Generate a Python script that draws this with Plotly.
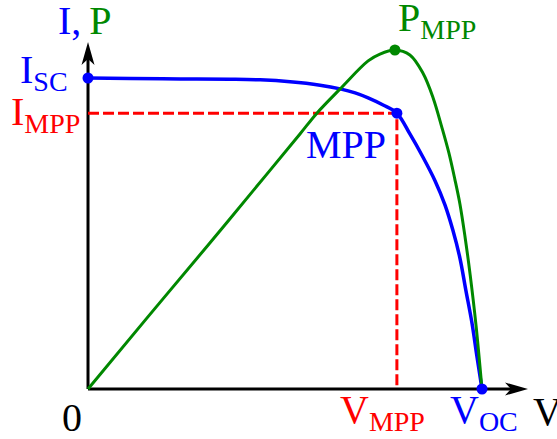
import plotly.graph_objects as go

# Normalised I-V characteristic of a solar cell (V / Voc, I / Isc)
v_iv = [0.0, 0.107, 0.234, 0.360, 0.437, 0.513, 0.589, 0.640, 0.678, 0.711,
        0.749, 0.784, 0.817, 0.850, 0.881, 0.906, 0.926, 0.944, 0.959, 0.975,
        0.987, 1.0]
i_iv = [1.0, 0.998, 0.997, 0.996, 0.994, 0.988, 0.977, 0.965, 0.952, 0.936,
        0.913, 0.887, 0.820, 0.746, 0.669, 0.592, 0.511, 0.421, 0.318, 0.209,
        0.106, 0.0]

# Power curve (same normalised voltage, arbitrary power scale)
v_p = [0.0, 0.152, 0.305, 0.454, 0.538, 0.581, 0.640, 0.711, 0.741, 0.779,
       0.817, 0.850, 0.876, 0.898, 0.916, 0.931, 0.944, 0.957, 0.970, 0.985,
       1.0]
p_p = [0.0, 0.232, 0.463, 0.691, 0.820, 0.887, 0.965, 1.055, 1.077, 1.090,
       1.074, 1.016, 0.936, 0.842, 0.759, 0.675, 0.595, 0.489, 0.367, 0.203,
       0.0]

# Characteristic points
v_mpp, i_mpp = 0.784, 0.887
v_pmax, p_max = 0.779, 1.090
v_oc, i_sc = 1.0, 1.0

BLUE, GREEN, RED = "#0000ff", "#008800", "#ff0000"
FONT = "Liberation Serif, Times New Roman, serif"
W, H = 557, 439

# axis ranges chosen so the origin sits near the lower left
x_range = [-0.2234, 1.1904]
y_range = [-0.1608, 1.2508]
x_tip, y_tip = 1.1168, 1.1158

fig = go.Figure()

# dashed guides to the maximum power point
fig.add_trace(go.Scatter(x=[0, v_mpp, v_mpp], y=[i_mpp, i_mpp, 0], mode="lines",
                         line=dict(color=RED, width=3, dash="11px,4px")))
# I-V curve
fig.add_trace(go.Scatter(x=v_iv, y=i_iv, mode="lines",
                         line=dict(color=BLUE, width=3.5, shape="spline", smoothing=1.0)))
# P-V curve
fig.add_trace(go.Scatter(x=v_p, y=p_p, mode="lines",
                         line=dict(color=GREEN, width=3, shape="spline", smoothing=1.0)))
# markers
fig.add_trace(go.Scatter(x=[0, v_mpp, v_oc], y=[i_sc, i_mpp, 0], mode="markers",
                         marker=dict(color=BLUE, size=11)))
fig.add_trace(go.Scatter(x=[v_pmax], y=[p_max], mode="markers",
                         marker=dict(color=GREEN, size=11)))

shapes = [
    dict(type="line", x0=0, y0=0, x1=0, y1=y_tip - 12 / 311,
         line=dict(color="black", width=3), layer="below"),
    dict(type="line", x0=0, y0=0, x1=x_tip - 12 / 394, y1=0,
         line=dict(color="black", width=3), layer="below"),
    dict(type="path", xsizemode="pixel", ysizemode="pixel", xanchor=0, yanchor=y_tip,
         path="M0,0 L-6.5,-23 L0,-17 L6.5,-23 Z", fillcolor="black",
         line=dict(width=0)),
    dict(type="path", xsizemode="pixel", ysizemode="pixel", xanchor=x_tip, yanchor=0,
         path="M0,0 L-23,6.5 L-17,0 L-23,-6.5 Z", fillcolor="black",
         line=dict(width=0)),
]


def label(text, px, py, color, xanchor="left", sub=False):
    # px, py: left/right edge and baseline of the label in pixels
    dx = -4 if xanchor == "left" else (3 if xanchor == "right" else 0)
    return dict(text=text, x=(px + dx) / W, y=1 - py / H, xref="paper", yref="paper",
                xanchor=xanchor, yanchor="bottom", showarrow=False,
                yshift=-14 if sub else -11,
                font=dict(family=FONT, size=40, color=color))


annotations = [
    label(f"<span style='color:{BLUE}'>I,\u2009</span><span style='color:{GREEN}'>P</span>",
          60, 34, BLUE),
    label("I<sub>SC</sub>", 67, 85, BLUE, "right", sub=True),
    label("I<sub>MPP</sub>", 79, 127, RED, "right", sub=True),
    label("0", 71.5, 431, "black", "center"),
    label("V<sub>MPP</sub>", 342, 425, RED, sub=True),
    label("V<sub>OC</sub>", 452, 425, BLUE, sub=True),
    label("V", 535, 425, "black"),
    label("P<sub>MPP</sub>", 400, 33, GREEN, sub=True),
    label("MPP", 308, 158, BLUE),
]

fig.update_layout(
    width=W, height=H, margin=dict(l=0, r=0, t=0, b=0),
    paper_bgcolor="white", plot_bgcolor="white", showlegend=False,
    xaxis=dict(range=x_range, visible=False, fixedrange=True),
    yaxis=dict(range=y_range, visible=False, fixedrange=True),
    shapes=shapes, annotations=annotations,
)

fig.write_html("out.html")
